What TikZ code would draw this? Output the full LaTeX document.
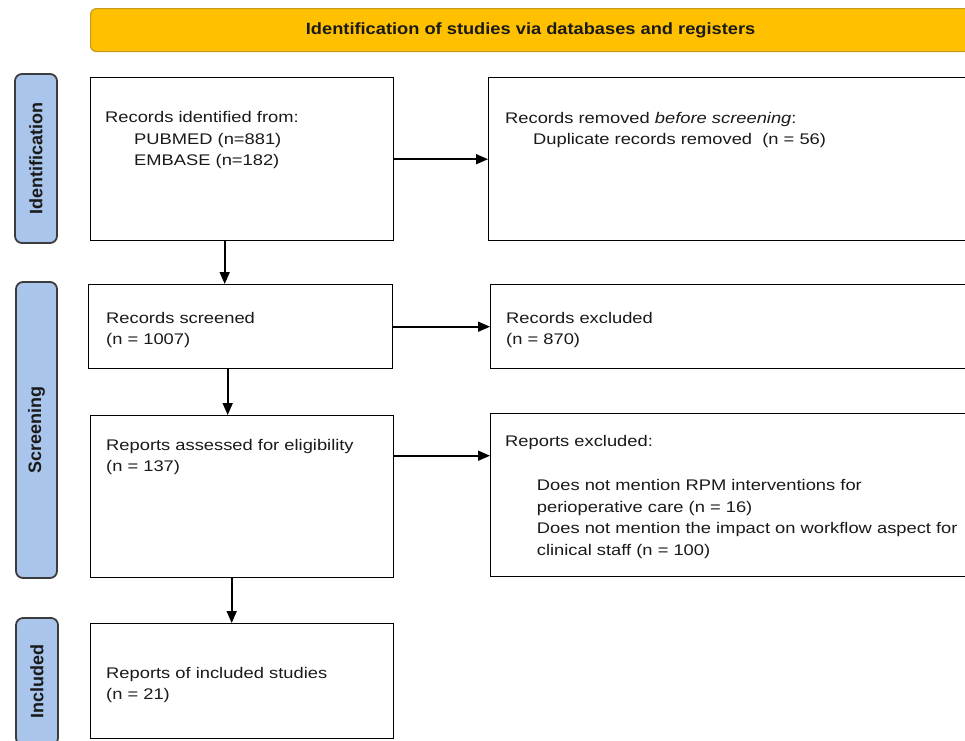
\documentclass[tikz,border=0pt]{standalone}
\usepackage{fontspec}
\setmainfont{Liberation Sans}[FakeStretch=1.19]
\newfontfamily\headfont{Liberation Sans}[FakeStretch=1.12]
\newfontfamily\stagefont{Liberation Sans}
\usetikzlibrary{arrows.meta}

\definecolor{headgold}{HTML}{FFC000}
\definecolor{headedge}{HTML}{C49A1E}
\definecolor{stageblue}{HTML}{A9C5EB}
\definecolor{stageedge}{HTML}{3C3C3C}
\definecolor{inktext}{HTML}{1A1A1A}

\tikzset{
  flowbox/.style={draw=black, line width=1.4pt, fill=white, inner sep=0pt, anchor=north west},
  stagebox/.style={draw=stageedge, line width=1.8pt, fill=stageblue, rounded corners=7pt,
    inner sep=0pt, rotate=90, text=inktext, font=\stagefont\bfseries\fontsize{18}{20}\selectfont},
  headbox/.style={draw=headedge, fill=headgold, line width=1.2pt, rounded corners=6pt,
    inner sep=0pt, anchor=north west, text=inktext, font=\headfont\bfseries\fontsize{16.3}{18}\selectfont},
  % multi-line texts are placed by the baseline of their last line
  bodytext/.style={inner sep=0pt, anchor=base west, align=left, text=inktext,
    font=\fontsize{15.4}{21.5}\selectfont},
  flowarrow/.style={draw=black, line width=1.6pt, -{Triangle[length=12pt,width=10pt]}},
}

\begin{document}
\begin{tikzpicture}[x=1pt,y=-1pt]
\useasboundingbox (0,0) rectangle (965,740);

% header bar
\node[headbox, minimum width=880pt, minimum height=43pt] (head) at (90,8)
  {Identification of studies via databases and registers};

% stage labels on the left
\node[stagebox, minimum width=169pt, minimum height=42pt] (stageid) at (36,158.5) {Identification};
\node[stagebox, minimum width=296pt, minimum height=41pt] (stagescr) at (36.5,430) {Screening};
\node[stagebox, minimum width=127pt, minimum height=42pt] (stageinc) at (37,681.5) {Included};

% flow boxes
\node[flowbox, minimum width=303pt, minimum height=163pt] (ident) at (90,77) {};
\node[flowbox, minimum width=490pt, minimum height=163pt] (removed) at (488,77) {};
\node[flowbox, minimum width=304pt, minimum height=84pt] (screened) at (88,284) {};
\node[flowbox, minimum width=490pt, minimum height=84pt] (recexcl) at (490,284) {};
\node[flowbox, minimum width=303pt, minimum height=162pt] (assessed) at (90,415) {};
\node[flowbox, minimum width=490pt, minimum height=163pt] (repexcl) at (490,413) {};
\node[flowbox, minimum width=303pt, minimum height=115pt] (included) at (90,623) {};

% box texts
\node[bodytext] (identtxt) at (105,165.7)
  {Records identified from:\\\hspace*{29pt}PUBMED (n=881)\\\hspace*{29pt}EMBASE (n=182)};
\node[bodytext] (removedtxt) at (505,144.8)
  {Records removed \textit{before screening}:\\\hspace*{28pt}Duplicate records removed\ \ (n = 56)};
\node[bodytext] (screenedtxt) at (106,344.5) {Records screened\\(n = 1007)};
\node[bodytext] (recexcltxt) at (506,344.8) {Records excluded\\(n = 870)};
\node[bodytext] (assessedtxt) at (106,471.5) {Reports assessed for eligibility\\(n = 137)};
\node[bodytext] (repexcltxt) at (505,446.7) {Reports excluded:};
\node[bodytext] (reasontxt) at (536.7,555.2)
  {Does not mention RPM interventions for\\perioperative care (n = 16)\\Does not mention the impact on workflow aspect for\\clinical staff (n = 100)};
\node[bodytext] (includedtxt) at (106,699.5) {Reports of included studies\\(n = 21)};

% connectors
\draw[flowarrow] (ident.east) -- (removed.west);
\draw[flowarrow] (screened.east) -- (recexcl.west);
\draw[flowarrow] ([yshift=41pt]assessed.east) -- ([yshift=41pt]assessed.east -| repexcl.west);
\draw[flowarrow] ([xshift=-17.5pt]ident.south) -- ([xshift=-17.5pt]ident.south |- screened.north);
\draw[flowarrow] ([xshift=-13pt]screened.south) -- ([xshift=-13pt]screened.south |- assessed.north);
\draw[flowarrow] ([xshift=-10.5pt]assessed.south) -- ([xshift=-10.5pt]assessed.south |- included.north);
\end{tikzpicture}
\end{document}
